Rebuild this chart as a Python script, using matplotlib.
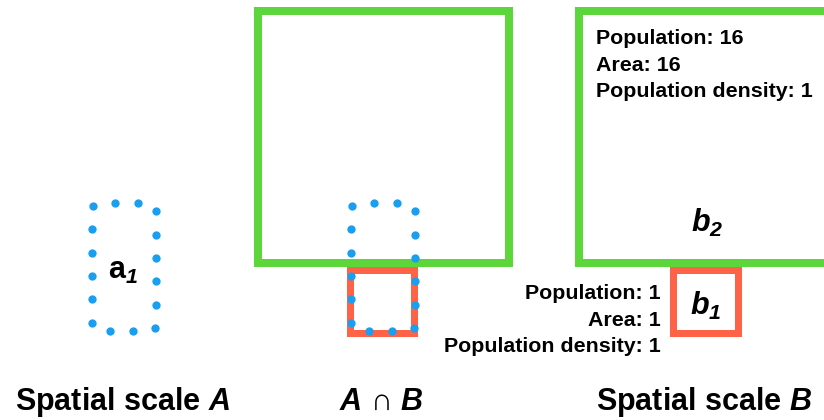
import numpy as np
import matplotlib
matplotlib.use('Agg')
import matplotlib.pyplot as plt
from matplotlib.patches import Rectangle, Polygon

# ---------------- data ----------------
scale_labels = ['Spatial scale $\\mathbfit{A}$', '$\\mathbfit{A}$ ∩ $\\mathbfit{B}$', 'Spatial scale $\\mathbfit{B}$']
unit_labels = ['$\\mathbf{a}_{\\mathbfit{1}}$', '$\\mathbfit{b}_{\\mathbfit{1}}$', '$\\mathbfit{b}_{\\mathbfit{2}}$']
b_population = [1, 16]   # b1, b2
b_area = [1, 16]         # b1, b2
b_density = [p // a for p, a in zip(b_population, b_area)]

# ---------------- style ----------------
plt.rcParams['font.family'] = ['Liberation Sans', 'DejaVu Sans']
plt.rcParams['mathtext.fontset'] = 'custom'
plt.rcParams['mathtext.rm'] = 'Liberation Sans'
plt.rcParams['mathtext.bf'] = 'Liberation Sans:bold'
plt.rcParams['mathtext.it'] = 'Liberation Sans:italic'
plt.rcParams['mathtext.bfit'] = 'Liberation Sans:bold:italic'

GREEN = '#5CD63A'
RED = '#FF6347'
BLUE = '#1A9FF0'
PX = 0.72  # points per pixel at dpi 100

fig = plt.figure(figsize=(8.24, 4.2), dpi=100)
ax = fig.add_axes([0, 0, 1, 1])
ax.set_xlim(0, 824)
ax.set_ylim(420, 0)
ax.axis('off')


def rounded_rect_dots(x0, y0, w, h, r, n, start):
    """Evenly spaced points along a rounded rectangle outline (y grows downward)."""
    x1, y1 = x0 + w, y0 + h
    pts = []
    t = np.linspace(0, 1, 200)
    def seg(a, b):
        pts.append(np.column_stack([a[0] + (b[0] - a[0]) * t, a[1] + (b[1] - a[1]) * t]))
    def arc(cx, cy, a0, a1):
        th = np.radians(a0 + (a1 - a0) * t)
        pts.append(np.column_stack([cx + r * np.cos(th), cy + r * np.sin(th)]))
    seg((x0 + r, y0), (x1 - r, y0))
    arc(x1 - r, y0 + r, -90, 0)
    seg((x1, y0 + r), (x1, y1 - r))
    arc(x1 - r, y1 - r, 0, 90)
    seg((x1 - r, y1), (x0 + r, y1))
    arc(x0 + r, y1 - r, 90, 180)
    seg((x0, y1 - r), (x0, y0 + r))
    arc(x0 + r, y0 + r, 180, 270)
    P = np.vstack(pts)
    d = np.concatenate([[0], np.cumsum(np.hypot(*np.diff(P, axis=0).T))])
    L = d[-1]
    s = (start + np.arange(n) * L / n) % L
    return np.interp(s, d, P[:, 0]), np.interp(s, d, P[:, 1])


def square_from_right(x0, y0, w, h, **kw):
    """Closed square outline whose path starts on the right side."""
    x1, y1 = x0 + w, y0 + h
    return Polygon([(x1, y0), (x0, y0), (x0, y1), (x1, y1)], closed=True, **kw)


# ---------------- shapes ----------------
green_side = 251
unit_side = 64
green_lw = 8 * PX
red_lw = 7 * PX
gkw = dict(fill=False, ec=GREEN, lw=green_lw, joinstyle='miter', zorder=2, clip_on=False)
rkw = dict(fill=False, ec=RED, lw=red_lw, joinstyle='miter', zorder=2, clip_on=False)

# Middle: A ∩ B
ax.add_patch(Rectangle((258.3, 11.3), green_side, 251.4, **gkw))
ax.add_patch(Rectangle((350.5, 270.0), unit_side, 62.5, **rkw))
# Right: spatial scale B (runs past the right edge)
ax.add_patch(square_from_right(579.0, 11.3, green_side, 251.4, **gkw))
ax.add_patch(Rectangle((673.5, 269.5), 65, 63, **rkw))

# Dotted a1 outlines (left alone, and in the intersection panel)
for x0 in (92.0, 351.0):
    xs, ys = rounded_rect_dots(x0, 203.0, 64, 128, 6, 16, 17)
    ax.plot(xs, ys, 'o', ms=8.3 * PX, color=BLUE, mec='none', zorder=5, clip_on=False)

# ---------------- text ----------------
ax.text(123, 279.3, unit_labels[0], fontsize=22, ha='center', va='baseline')
ax.text(706, 315.0, unit_labels[1], fontsize=22, ha='center', va='baseline')
ax.text(707, 231.7, unit_labels[2], fontsize=22, ha='center', va='baseline')

top_lines = [f'Population: {b_population[1]}', f'Area: {b_area[1]}',
             f'Population density: {b_density[1]}']
for line, yb in zip(top_lines, (44.3, 70.7, 97.3)):
    ax.text(596, yb, line, fontsize=15.4, fontweight='bold', ha='left', va='baseline')

low_lines = [f'Population: {b_population[0]}', f'Area: {b_area[0]}',
             f'Population density: {b_density[0]}']
for line, yb in zip(low_lines, (299.3, 325.7, 352.3)):
    ax.text(661, yb, line, fontsize=15.4, fontweight='bold', ha='right', va='baseline')

ax.text(123, 410, scale_labels[0], fontsize=22, fontweight='bold', ha='center', va='baseline')
ax.text(381.5, 410, scale_labels[1], fontsize=22, fontweight='normal', ha='center', va='baseline')
ax.text(704, 410, scale_labels[2], fontsize=22, fontweight='bold', ha='center', va='baseline')

fig.savefig('out.png', dpi=100, facecolor='white')
